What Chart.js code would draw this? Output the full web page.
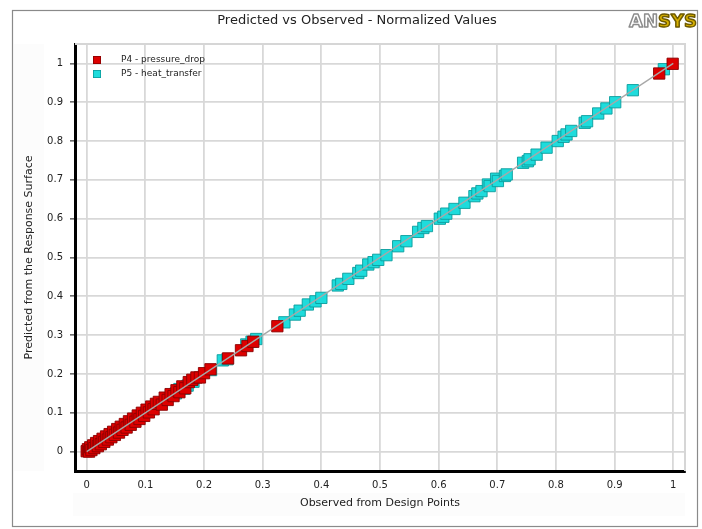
<!DOCTYPE html>
<html>
<head>
<meta charset="utf-8">
<script src="https://cdn.jsdelivr.net/npm/chart.js@4/dist/chart.umd.min.js"></script>
<style>
  html, body { margin: 0; padding: 0; background: #fff; }
  canvas { display: block; }
</style>
</head>
<body>
<canvas id="c" width="702" height="529"></canvas>
<script>
// Normalized observed (design points) vs predicted (response surface) values
const seriesNames = ['P4 - pressure_drop', 'P5 - heat_transfer'];

const p4Observed = [0, 0.002, 0.004, 0.006, 0.008, 0.011, 0.013, 0.016, 0.019, 0.021, 0.024, 0.027,
  0.030, 0.033, 0.036, 0.039, 0.042, 0.045, 0.048, 0.052, 0.055, 0.058, 0.061, 0.065, 0.068, 0.072,
  0.075, 0.079, 0.083, 0.087, 0.090, 0.094, 0.098, 0.102, 0.106, 0.110, 0.114, 0.118, 0.123, 0.128,
  0.133, 0.138, 0.143, 0.148, 0.153, 0.158, 0.163, 0.168, 0.174, 0.180, 0.187, 0.193, 0.200, 0.211,
  0.241, 0.263, 0.274, 0.284, 0.325, 0.976, 0.999];
const p4Predicted = [0.001, 0.006, 0.000, 0.011, 0.004, 0.016, 0.009, 0.022, 0.014, 0.027, 0.019, 0.033,
  0.025, 0.039, 0.031, 0.045, 0.037, 0.051, 0.043, 0.058, 0.049, 0.064, 0.056, 0.071, 0.062, 0.078,
  0.069, 0.085, 0.077, 0.093, 0.084, 0.100, 0.092, 0.108, 0.101, 0.116, 0.109, 0.123, 0.128, 0.121,
  0.139, 0.133, 0.148, 0.143, 0.158, 0.153, 0.168, 0.163, 0.179, 0.185, 0.191, 0.191, 0.202, 0.212,
  0.240, 0.261, 0.272, 0.283, 0.323, 0.974, 0.999];

const p5Observed = [0.152, 0.158, 0.166, 0.172, 0.182, 0.212, 0.232, 0.240, 0.272, 0.281, 0.289, 0.337,
  0.355, 0.363, 0.377, 0.390, 0.400, 0.428, 0.434, 0.446, 0.463, 0.468, 0.480, 0.489, 0.497, 0.511,
  0.531, 0.545, 0.565, 0.574, 0.580, 0.602, 0.608, 0.613, 0.627, 0.644, 0.661, 0.666, 0.673, 0.684,
  0.687, 0.698, 0.701, 0.713, 0.716, 0.744, 0.752, 0.755, 0.767, 0.784, 0.803, 0.813, 0.818, 0.826,
  0.849, 0.853, 0.872, 0.886, 0.901, 0.931, 0.984];
const p5Predicted = [0.150, 0.161, 0.162, 0.170, 0.180, 0.210, 0.235, 0.238, 0.276, 0.283, 0.290, 0.333,
  0.353, 0.363, 0.379, 0.387, 0.396, 0.428, 0.432, 0.445, 0.460, 0.466, 0.482, 0.488, 0.494, 0.506,
  0.529, 0.542, 0.566, 0.576, 0.581, 0.600, 0.605, 0.613, 0.625, 0.641, 0.658, 0.665, 0.671, 0.688,
  0.684, 0.703, 0.697, 0.710, 0.714, 0.744, 0.748, 0.753, 0.765, 0.783, 0.800, 0.811, 0.817, 0.826,
  0.847, 0.851, 0.871, 0.884, 0.900, 0.931, 0.985];

// Ideal fit line endpoints
const idealX = [0, 1];
const idealY = [0, 1];

const tickValues = [0, 0.1, 0.2, 0.3, 0.4, 0.5, 0.6, 0.7, 0.8, 0.9, 1];
const tickLabels = ['0', '0.1', '0.2', '0.3', '0.4', '0.5', '0.6', '0.7', '0.8', '0.9', '1'];

const FONT = "'DejaVu Sans', 'Liberation Sans', sans-serif";
const RED = '#dd0000', RED_EDGE = '#8a0000';
const CYAN = '#1edcdc', CYAN_EDGE = '#0a9c9c';

const pairs = (xs, ys) => xs.map((x, i) => ({ x: x, y: ys[i] }));

const labelFor = v => {
  const i = tickValues.findIndex(t => Math.abs(t - v) < 1e-9);
  return i >= 0 ? tickLabels[i] : '';
};

const decorations = {
  id: 'decorations',
  beforeDraw(chart) {
    const ctx = chart.ctx;
    const a = chart.chartArea;
    ctx.save();
    ctx.fillStyle = '#ffffff';
    ctx.fillRect(0, 0, chart.width, chart.height);
    // outer frame
    ctx.strokeStyle = '#8a8a8a';
    ctx.lineWidth = 1.2;
    ctx.strokeRect(12.5, 10.5, 685, 516);
    // faint panels behind axis titles
    ctx.fillStyle = '#fcfcfc';
    ctx.fillRect(14, a.top, 30, a.bottom - a.top);
    ctx.fillRect(a.left - 2, 493, a.right - a.left + 2, 23);
    ctx.restore();
  },
  beforeDatasetsDraw(chart) {
    const ctx = chart.ctx;
    const a = chart.chartArea;
    ctx.save();
    ctx.strokeStyle = '#d6d6d6';
    ctx.lineWidth = 2;
    ctx.beginPath();
    ctx.moveTo(a.left, a.top);
    ctx.lineTo(a.right, a.top);
    ctx.lineTo(a.right, a.bottom);
    ctx.stroke();
    ctx.restore();
  },
  afterDraw(chart) {
    const ctx = chart.ctx;
    const a = chart.chartArea;
    ctx.save();
    // title
    ctx.fillStyle = '#222';
    ctx.font = '13px ' + FONT;
    ctx.textAlign = 'center';
    ctx.textBaseline = 'middle';
    ctx.fillText('Predicted vs Observed - Normalized Values', 357, 21);

    // axis titles
    ctx.font = '11px ' + FONT;
    ctx.fillText('Observed from Design Points', (a.left + a.right) / 2, 503);
    ctx.save();
    ctx.translate(29, (a.top + a.bottom) / 2);
    ctx.rotate(-Math.PI / 2);
    ctx.fillText('Predicted from the Response Surface', 0, 0);
    ctx.restore();

    // legend
    const colors = [[RED, RED_EDGE], [CYAN, CYAN_EDGE]];
    ctx.font = '9px ' + FONT;
    ctx.textAlign = 'left';
    seriesNames.forEach((name, i) => {
      const y = 60 + i * 14;
      ctx.fillStyle = colors[i][0];
      ctx.fillRect(93, y - 4, 8, 8);
      ctx.strokeStyle = colors[i][1];
      ctx.lineWidth = 0.8;
      ctx.strokeRect(93.4, y - 3.6, 7.2, 7.2);
      ctx.fillStyle = '#222';
      ctx.fillText(name, 121, y);
    });

    // logo
    ctx.font = 'bold 17px ' + FONT;
    ctx.textBaseline = 'alphabetic';
    const wAN = ctx.measureText('AN').width;
    const wSYS = ctx.measureText('SYS').width;
    const sx = 68 / (wAN + wSYS);
    ctx.translate(629, 27);
    ctx.scale(sx, 1.05);
    ctx.lineWidth = 1.4;
    ctx.lineJoin = 'round';
    ctx.fillStyle = '#ffffff';
    ctx.strokeStyle = '#8c8c8c';
    ctx.fillText('AN', 0, 0);
    ctx.strokeText('AN', 0, 0);
    ctx.fillStyle = '#d9b200';
    ctx.strokeStyle = '#6e5a00';
    ctx.fillText('SYS', wAN, 0);
    ctx.strokeText('SYS', wAN, 0);
    ctx.restore();
  }
};

new Chart(document.getElementById('c'), {
  data: {
    datasets: [
      {
        type: 'line',
        label: 'ideal',
        data: pairs(idealX, idealY),
        borderColor: '#a8a8a8',
        borderWidth: 1.3,
        pointRadius: 0,
        fill: false,
        order: 0
      },
      {
        type: 'scatter',
        label: seriesNames[0],
        data: pairs(p4Observed, p4Predicted),
        pointStyle: 'rect',
        pointRadius: 8,
        backgroundColor: RED,
        borderColor: RED_EDGE,
        borderWidth: 0.9,
        order: 1
      },
      {
        type: 'scatter',
        label: seriesNames[1],
        data: pairs(p5Observed, p5Predicted),
        pointStyle: 'rect',
        pointRadius: 8,
        backgroundColor: CYAN,
        borderColor: CYAN_EDGE,
        borderWidth: 0.9,
        order: 2
      }
    ]
  },
  options: {
    responsive: false,
    animation: false,
    devicePixelRatio: 1,
    layout: { padding: { left: 0, top: 44, right: 17, bottom: 0 } },
    plugins: {
      legend: { display: false },
      title: { display: false },
      tooltip: { enabled: false }
    },
    scales: {
      x: {
        type: 'linear',
        min: -0.02,
        max: 1.02,
        afterBuildTicks: s => { s.ticks = tickValues.map(v => ({ value: v })); },
        afterFit: s => { s.height = 58; },
        grid: { color: '#d8d8d8', lineWidth: 1.8, drawTicks: false },
        border: { display: true, color: '#000', width: 3 },
        ticks: {
          padding: 8,
          color: '#222',
          font: { family: FONT, size: 10 },
          callback: v => labelFor(v)
        }
      },
      y: {
        type: 'linear',
        min: -0.05,
        max: 1.05,
        afterBuildTicks: s => { s.ticks = tickValues.map(v => ({ value: v })); },
        afterFit: s => { s.width = 75; },
        grid: { color: '#d8d8d8', lineWidth: 1.8, tickColor: '#111', tickLength: 5, tickWidth: 1 },
        border: { display: true, color: '#000', width: 3 },
        ticks: {
          padding: 7,
          color: '#222',
          font: { family: FONT, size: 10 },
          callback: v => labelFor(v)
        }
      }
    }
  },
  plugins: [decorations]
});
</script>
</body>
</html>
